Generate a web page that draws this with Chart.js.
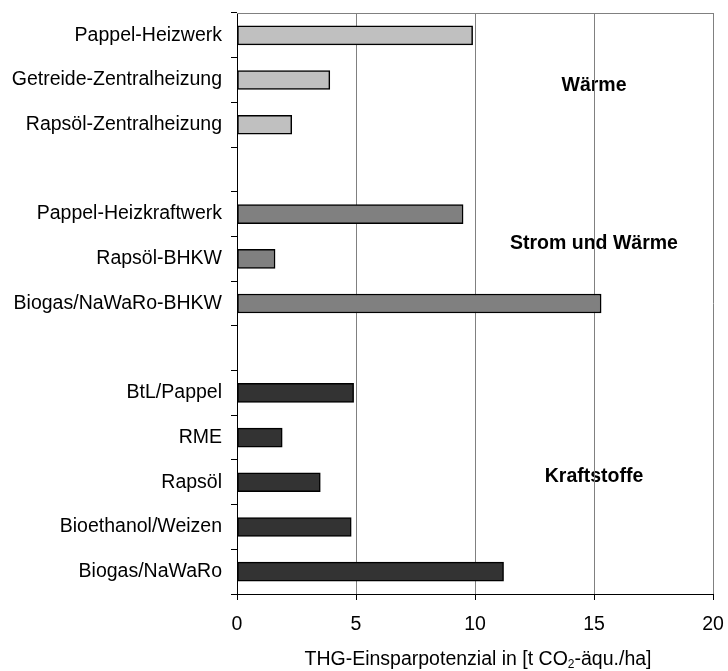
<!DOCTYPE html>
<html>
<head>
<meta charset="utf-8">
<script src="https://cdn.jsdelivr.net/npm/chart.js@4.4.0/dist/chart.umd.min.js"></script>
<style>
  body { margin: 0; background: #fff; }
  canvas { display: block; }
</style>
</head>
<body>
<canvas id="chart" width="728" height="671"></canvas>
<script>
// data
const categories = [
  "Pappel-Heizwerk", "Getreide-Zentralheizung", "Rapsöl-Zentralheizung", "",
  "Pappel-Heizkraftwerk", "Rapsöl-BHKW", "Biogas/NaWaRo-BHKW", "",
  "BtL/Pappel", "RME", "Rapsöl", "Bioethanol/Weizen", "Biogas/NaWaRo"
];
const values = [9.9, 3.9, 2.3, null, 9.5, 1.6, 15.3, null, 4.9, 1.9, 3.5, 4.8, 11.2];
const groups = ["Wärme", "Wärme", "Wärme", null, "Strom", "Strom", "Strom", null,
  "Kraft", "Kraft", "Kraft", "Kraft", "Kraft"];
const groupLabels = ["Wärme", "Strom und Wärme", "Kraftstoffe"];
const xTicks = [0, 5, 10, 15, 20];

const groupColors = { "Wärme": "#c0c0c0", "Strom": "#808080", "Kraft": "#333333" };
const FONT = "'Liberation Sans', Arial, sans-serif";

// group labels sit at x = 15, vertical position in category units
const groupLabelSpots = [[15, 1.13], [15, 4.65], [15, 9.87]];

// drop the automatic label overhang so the layout padding decides the plot area
function noPad(s) {
  s.paddingTop = 0; s.paddingBottom = 0; s.paddingLeft = 0; s.paddingRight = 0;
}

const extrasPlugin = {
  id: "extras",
  beforeDraw(chart) {
    const { ctx, scales: { x, y } } = chart;
    ctx.save();
    ctx.fillStyle = "#000";
    ctx.font = "bold 19.5px " + FONT;
    ctx.textAlign = "center";
    ctx.textBaseline = "middle";
    groupLabels.forEach((t, i) => {
      const [vx, vy] = groupLabelSpots[i];
      ctx.fillText(t, x.getPixelForValue(vx), y.getPixelForValue(vy));
    });
    ctx.restore();
  },
  afterDraw(chart) {
    const { ctx, chartArea } = chart;
    ctx.save();
    // top border of plot area
    ctx.strokeStyle = "#808080";
    ctx.lineWidth = 1;
    ctx.beginPath();
    ctx.moveTo(chartArea.left, chartArea.top + 0.5);
    ctx.lineTo(chartArea.right, chartArea.top + 0.5);
    ctx.stroke();

    // x axis title with subscript
    const big = "19.5px " + FONT, small = "12px " + FONT;
    const p1 = "THG-Einsparpotenzial in [t CO", p2 = "2", p3 = "-äqu./ha]";
    ctx.font = big;
    const w1 = ctx.measureText(p1).width, w3 = ctx.measureText(p3).width;
    ctx.font = small;
    const w2 = ctx.measureText(p2).width;
    const total = w1 + w2 + w3;
    let sx = (chartArea.left + chartArea.right) / 2 + 3 - total / 2;
    const by = chartArea.bottom + 71;
    ctx.fillStyle = "#000";
    ctx.textAlign = "left";
    ctx.textBaseline = "alphabetic";
    ctx.font = big;
    ctx.fillText(p1, sx, by);
    sx += w1;
    ctx.font = small;
    ctx.fillText(p2, sx, by + 3);
    sx += w2;
    ctx.font = big;
    ctx.fillText(p3, sx, by);
    ctx.restore();
  }
};

new Chart(document.getElementById("chart"), {
  type: "bar",
  data: {
    labels: categories,
    datasets: [{
      data: values,
      backgroundColor: groups.map(g => g ? groupColors[g] : "transparent"),
      borderColor: "#000",
      borderWidth: 1.5,
      borderSkipped: false,
      barThickness: 19
    }]
  },
  options: {
    indexAxis: "y",
    responsive: false,
    animation: false,
    devicePixelRatio: 1,
    layout: { padding: { top: 13, right: 15, left: 0, bottom: 0 } },
    plugins: { legend: { display: false }, tooltip: { enabled: false } },
    scales: {
      x: {
        min: 0,
        max: 20,
        afterBuildTicks: s => { s.ticks = xTicks.map(v => ({ value: v })); },
        afterFit: s => { s.height = 77; noPad(s); },
        grid: { color: "#808080", lineWidth: 1, tickColor: "#000", tickLength: 6 },
        border: { color: "#000", width: 1 },
        ticks: { color: "#000", padding: 13, font: { family: FONT, size: 19.5 } }
      },
      y: {
        afterFit: s => { s.width = 237; noPad(s); },
        grid: { drawOnChartArea: false, tickColor: "#000", tickLength: 6, offset: true },
        border: { color: "#000", width: 1 },
        ticks: { color: "#000", padding: 9, autoSkip: false, font: { family: FONT, size: 19.5 } }
      }
    }
  },
  plugins: [extrasPlugin]
});
</script>
</body>
</html>
